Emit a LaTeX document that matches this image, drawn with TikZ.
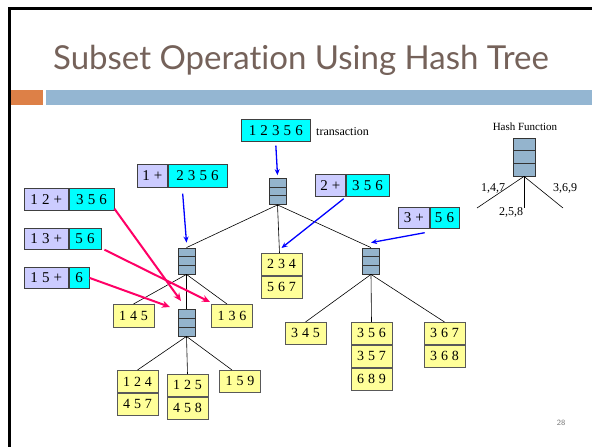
\documentclass[tikz,border=0pt]{standalone}
\usepackage{fontspec}
\setmainfont{Liberation Serif}
\newfontfamily\titlefont[Ligatures={NoCommon,NoDiscretionary}]{Lato}
\newfontfamily\boxf[WordSpace=1.4]{Liberation Serif}
\newfontfamily\leaff[WordSpace=1.1]{Liberation Serif}
\usetikzlibrary{calc,arrows.meta}
\definecolor{titlec}{RGB}{117,98,90}
\definecolor{orangec}{RGB}{221,128,71}
\definecolor{barblue}{RGB}{148,182,210}
\definecolor{hashc}{RGB}{148,180,205}
\definecolor{lavc}{RGB}{204,204,255}
\definecolor{cync}{RGB}{0,255,255}
\definecolor{yelc}{RGB}{255,255,153}
\definecolor{redc}{RGB}{255,0,102}
\definecolor{bluec}{RGB}{0,0,255}
\begin{document}
\begin{tikzpicture}[x=1pt,y=-1pt,
  boxfont/.style={font=\boxf\fontsize{15}{17}\selectfont},
  leaffont/.style={font=\leaff\fontsize{14}{16}\selectfont},
  labbox/.style={draw=black!75, line width=0.7pt, inner sep=0pt, boxfont, fill=lavc, anchor=north west},
  cybox/.style={draw=black!75, line width=0.7pt, inner sep=0pt, boxfont, fill=cync, anchor=north west},
  leaf/.style={draw=black!65, line width=0.8pt, fill=yelc, inner sep=0pt, leaffont, minimum width=41pt, minimum height=22pt, anchor=north},
  hashnode/.style={draw=black!80, line width=0.8pt, fill=hashc, inner sep=0pt, minimum width=17pt, minimum height=26pt,
    path picture={
      \draw[line width=1pt] ($(path picture bounding box.north west)!1/3!(path picture bounding box.south west)$) -- ($(path picture bounding box.north east)!1/3!(path picture bounding box.south east)$);
      \draw[line width=1pt] ($(path picture bounding box.north west)!2/3!(path picture bounding box.south west)$) -- ($(path picture bounding box.north east)!2/3!(path picture bounding box.south east)$);
    }},
  edge/.style={draw=black, line width=0.6pt},
  barrow/.style={draw=bluec, line width=1.3pt, -{Stealth[length=6pt,width=5pt]}},
  rarrow/.style={draw=redc, line width=2pt, -{Stealth[length=8pt,width=7pt]}},
  small/.style={font=\fontsize{12}{14}\selectfont, inner sep=0pt}
]
\useasboundingbox (0,0) rectangle (592,447);
\fill[white] (0,0) rectangle (592,447);
% frame and title
\draw[line width=3pt] (9.5,447) -- (9.5,8.5) -- (592,8.5);
\fill[orangec] (11,90) rectangle (43,105);
\fill[barblue] (46,90) rectangle (592,105);
\node[anchor=base west, font=\titlefont\fontsize{33}{38}\selectfont, text=titlec, inner sep=0pt] (title) at (53,69) {Subset Operation Using Hash Tree};
\node[font=\fontsize{8}{9}\selectfont\sffamily, text=black!55, inner sep=0pt] (pg) at (561,423) {28};

% transaction
\node[cybox, minimum width=69pt, minimum height=22pt] (trans) at (241,119) {1 2 3 5 6};
\node[small, anchor=west] (translab) at (316,132) {transaction};

% hash function legend
\node[font=\fontsize{11}{13}\selectfont, inner sep=0pt] (hflab) at (525,127) {Hash Function};
\node[hashnode, minimum width=22pt, minimum height=38pt] (HF) at (524,157) {};
\coordinate (hf1) at (477,208);
\coordinate (hf2) at (524,208);
\coordinate (hf3) at (563,208);
\draw[edge] (HF.south) -- (hf1);
\draw[edge] (HF.south) -- (hf2);
\draw[edge] (HF.south) -- (hf3);
\node[small] (t147) at (493,188) {1,4,7};
\node[small] (t258) at (511,212) {2,5,8};
\node[small] (t369) at (565,188) {3,6,9};

% hash tree nodes
\node[hashnode] (root) at (277.5,191.5) {};
\node[hashnode] (L) at (186.5,261) {};
\node[hashnode] (R) at (371,261) {};
\node[hashnode, minimum height=27pt] (B) at (186.5,322.5) {};

% leaves
\node[leaf] (l234a) at (281.5,253) {2 3 4};
\node[leaf] (l234b) at (l234a.south) {5 6 7};
\node[leaf, minimum height=23pt] (l145) at (133.5,304) {1 4 5};
\node[leaf, minimum height=23pt] (l136) at (232,304) {1 3 6};
\node[leaf] (l124a) at (137.5,370) {1 2 4};
\node[leaf] (l124b) at (l124a.south) {4 5 7};
\node[leaf] (l125a) at (187.5,374) {1 2 5};
\node[leaf] (l125b) at (l125a.south) {4 5 8};
\node[leaf] (l159) at (240,370) {1 5 9};
\node[leaf] (l345) at (305.5,322) {3 4 5};
\node[leaf] (l356a) at (371.5,322) {3 5 6};
\node[leaf] (l356b) at (l356a.south) {3 5 7};
\node[leaf] (l356c) at (l356b.south) {6 8 9};
\node[leaf] (l367a) at (444.5,322) {3 6 7};
\node[leaf] (l367b) at (l367a.south) {3 6 8};

% tree edges
\draw[edge] (root.south) -- (L.north);
\draw[edge] (root.south) -- ([xshift=-2pt]l234a.north);
\draw[edge] (root.south) -- (R.north);
\draw[edge] (L.south) -- (l145.north);
\draw[edge] (L.south) -- ([xshift=-5pt]l136.north);
\draw[edge] (L.south) -- (B.north);
\draw[edge] (B.south) -- (l124a.north);
\draw[edge] (B.south) -- (l125a.north);
\draw[edge] (B.south) -- ([xshift=-8pt]l159.north);
\draw[edge] (R.south) -- (l345.north);
\draw[edge] (R.south) -- (l356a.north);
\draw[edge] (R.south) -- (l367a.north);

% labelled partial boxes
\node[labbox, minimum width=30pt, minimum height=23pt] (b1l) at (137,164) {1 +};
\node[cybox, minimum width=59pt, minimum height=23pt] (b1r) at (b1l.north east) {2 3 5 6};
\node[labbox, minimum width=30pt, minimum height=22pt] (b2l) at (315,174) {2 +};
\node[cybox, minimum width=43pt, minimum height=22pt] (b2r) at (b2l.north east) {3 5 6};
\node[labbox, minimum width=31pt, minimum height=21pt] (b3l) at (398,207) {3 +};
\node[cybox, minimum width=29pt, minimum height=21pt] (b3r) at (b3l.north east) {5 6};
\node[labbox, minimum width=44pt, minimum height=22pt] (b12l) at (24,188) {1 2 +};
\node[cybox, minimum width=45pt, minimum height=22pt] (b12r) at (b12l.north east) {3 5 6};
\node[labbox, minimum width=44pt, minimum height=21pt] (b13l) at (24,228) {1 3 +};
\node[cybox, minimum width=32pt, minimum height=21pt] (b13r) at (b13l.north east) {5 6};
\node[labbox, minimum width=44pt, minimum height=21pt] (b15l) at (24,267) {1 5 +};
\node[cybox, minimum width=20pt, minimum height=21pt] (b15r) at (b15l.north east) {6};

% blue arrows
\draw[barrow] ([yshift=-4pt]trans.south) -- ([yshift=3pt]root.north);
\draw[barrow] ([xshift=15pt,yshift=-6pt]b1r.south west) -- ([yshift=5pt]L.north);
\draw[barrow] ([xshift=-2pt,yshift=-2pt]b2r.south west) -- ([yshift=5pt]l234a.north);
\draw[barrow] ([xshift=-5pt,yshift=-4pt]b3r.south west) -- ([yshift=5pt]R.north);

% red arrows
\coordinate (r1) at (181,301);
\coordinate (r2) at (210,302);
\coordinate (r3) at (170,307);
\draw[rarrow] ([yshift=2pt]b12r.south east) -- (r1);
\draw[rarrow] ([xshift=3pt]b13r.south east) -- (r2);
\draw[rarrow] (b15r.east) -- (r3);
\end{tikzpicture}
\end{document}
